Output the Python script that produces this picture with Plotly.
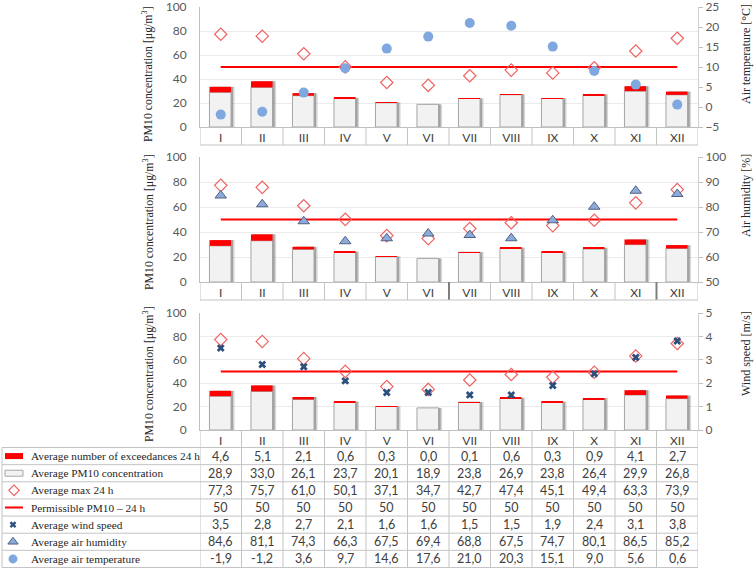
import plotly.graph_objects as go

# ---------------- data ----------------
months = ["I", "II", "III", "IV", "V", "VI", "VII", "VIII", "IX", "X", "XI", "XII"]
exceedances = [4.6, 5.1, 2.1, 0.6, 0.3, 0.0, 0.1, 0.6, 0.3, 0.9, 4.1, 2.7]
pm10_avg = [28.9, 33.0, 26.1, 23.7, 20.1, 18.9, 23.8, 26.9, 23.8, 26.4, 29.9, 26.8]
max_24h = [77.3, 75.7, 61.0, 50.1, 37.1, 34.7, 42.7, 47.4, 45.1, 49.4, 63.3, 73.9]
permissible = [50, 50, 50, 50, 50, 50, 50, 50, 50, 50, 50, 50]
wind_speed = [3.5, 2.8, 2.7, 2.1, 1.6, 1.6, 1.5, 1.5, 1.9, 2.4, 3.1, 3.8]
air_humidity = [84.6, 81.1, 74.3, 66.3, 67.5, 69.4, 68.8, 67.5, 74.7, 80.1, 86.5, 85.2]
air_temperature = [-1.9, -1.2, 3.6, 9.7, 14.6, 17.6, 21.0, 20.3, 15.1, 9.0, 5.6, 0.6]

row_labels = [
    "Average number of exceedances 24 h",
    "Average PM10 concentration",
    "Average max 24 h",
    "Permissible PM10 \u2013 24 h",
    "Average wind speed",
    "Average air humidity",
    "Average air temperature",
]
left_title = "PM10 concentration [\u03bcg/m<sup>3</sup>]"
right_titles = ["Air temperature [\u00b0C]", "Air humidity [%]", "Wind speed [m/s]"]

# ---------------- layout helpers ----------------
W, H = 756, 568
def px(x):
    return x / W
def py(y):
    return 1 - y / H

X0, X1 = 200, 698
panels = [(7, 127), (157, 282), (313, 430)]  # (top px, bottom px)
RED = "#ff0000"
DIAM = "#f06262"
BLUE = "#7fa7e0"
SANS = "Lato, Carlito, Calibri, sans-serif"
SERIF = "Liberation Serif, Times New Roman, serif"
GRIDC = "#c4c4c4"

fig = go.Figure()

total = [a + b for a, b in zip(pm10_avg, exceedances)]
sec_vals = [air_temperature, air_humidity, wind_speed]
sec_ranges = [[-5, 25], [50, 100], [0, 5]]
sec_dticks = [5, 10, 1]

BW = 0.52
OFF = -0.272

for p in range(3):
    xa = "x" if p == 0 else f"x{p+1}"
    ya = "y" if p == 0 else f"y{2*p+1}"
    ys = f"y{2*p+2}"
    # soft shadow (two layers)
    fig.add_trace(go.Bar(x=months, y=total, xaxis=xa, yaxis=ya, width=BW, offset=OFF + 0.085,
                         marker=dict(color="rgba(140,140,140,0.35)", line=dict(width=0)),
                         showlegend=False, hoverinfo="skip"))
    fig.add_trace(go.Bar(x=months, y=total, xaxis=xa, yaxis=ya, width=BW, offset=OFF + 0.05,
                         marker=dict(color="rgba(100,100,100,0.45)", line=dict(width=0)),
                         showlegend=False, hoverinfo="skip"))
    fig.add_trace(go.Bar(x=months, y=pm10_avg, xaxis=xa, yaxis=ya, width=BW, offset=OFF,
                         marker=dict(color="#f2f2f2", line=dict(color="#a6a6a6", width=1)),
                         showlegend=False, name="Average PM10 concentration"))
    fig.add_trace(go.Bar(x=months, y=exceedances, base=pm10_avg, xaxis=xa, yaxis=ya, width=BW, offset=OFF,
                         marker=dict(color=RED, line=dict(width=0)),
                         showlegend=False, name="Average number of exceedances 24 h"))
    fig.add_trace(go.Scatter(x=months, y=permissible, xaxis=xa, yaxis=ya, mode="lines",
                             line=dict(color=RED, width=2.2), showlegend=False))
    fig.add_trace(go.Scatter(x=months, y=max_24h, xaxis=xa, yaxis=ya, mode="markers",
                             marker=dict(symbol="diamond-open", size=9.5, color=DIAM, line=dict(width=1.2)),
                             showlegend=False))
    if p == 0:
        mk = dict(symbol="circle", size=10, color=BLUE)
    elif p == 1:
        mk = dict(symbol="triangle-up", size=10, color="#8eaad8", line=dict(color="#4d6285", width=1))
    else:
        mk = dict(symbol="x", size=7, color="#2c4f7e", line=dict(width=0))
    fig.add_trace(go.Scatter(x=months, y=sec_vals[p], xaxis=xa, yaxis=ys, mode="markers",
                             marker=mk, showlegend=False))

# legend symbols in the table's first column (pixel-unit helper axes)
row_h = (567.5 - 447.5) / 7
row_c = [447.5 + row_h * (i + 0.5) for i in range(7)]
fig.add_trace(go.Scatter(x=[14], y=[row_c[2]], xaxis="x4", yaxis="y7", mode="markers",
                         marker=dict(symbol="diamond-open", size=8, color=DIAM, line=dict(width=1.2)),
                         showlegend=False, hoverinfo="skip"))
fig.add_trace(go.Scatter(x=[5, 23], y=[row_c[3], row_c[3]], xaxis="x4", yaxis="y7", mode="lines",
                         line=dict(color=RED, width=2), showlegend=False, hoverinfo="skip"))
fig.add_trace(go.Scatter(x=[13], y=[row_c[4]], xaxis="x4", yaxis="y7", mode="markers",
                         marker=dict(symbol="x", size=6, color="#2c4f7e"), showlegend=False, hoverinfo="skip"))
fig.add_trace(go.Scatter(x=[13], y=[row_c[5]], xaxis="x4", yaxis="y7", mode="markers",
                         marker=dict(symbol="triangle-up", size=9, color="#8eaad8", line=dict(color="#4d6285", width=1)),
                         showlegend=False, hoverinfo="skip"))
fig.add_trace(go.Scatter(x=[13], y=[row_c[6]], xaxis="x4", yaxis="y7", mode="markers",
                         marker=dict(symbol="circle", size=9, color=BLUE), showlegend=False, hoverinfo="skip"))

layout = dict(
    width=W, height=H, margin=dict(l=0, r=0, t=0, b=0, autoexpand=False),
    paper_bgcolor="white", plot_bgcolor="white", barmode="overlay",
    showlegend=False, font=dict(family=SANS, color="#404040"),
)

tickfont = dict(family=SANS, size=12, color="#595959")
for p in range(3):
    top, bot = panels[p]
    dom = [py(bot), py(top)]
    xk = "xaxis" if p == 0 else f"xaxis{p+1}"
    ylk = "yaxis" if p == 0 else f"yaxis{2*p+1}"
    yrk = f"yaxis{2*p+2}"
    yl = "y" if p == 0 else f"y{2*p+1}"
    layout[xk] = dict(domain=[px(X0), px(X1)], anchor=yl, type="category", categoryorder="array",
                      categoryarray=months, range=[-0.5, 11.5], showline=True, linecolor="#bfbfbf",
                      ticks="", showgrid=False, tickfont=dict(family=SANS, size=12, color="#404040"),
                      automargin=False, fixedrange=True)
    layout[ylk] = dict(domain=dom, anchor=xk.replace("axis", ""), range=[0, 100], dtick=20,
                       showgrid=True, gridcolor="#ebebeb", zeroline=False, showline=True,
                       linecolor="#bfbfbf", ticks="outside", ticklen=10, tickcolor="rgba(0,0,0,0)",
                       tickfont=tickfont, ticklabeloverflow="allow", automargin=False, fixedrange=True)
    layout[yrk] = dict(domain=dom, anchor=xk.replace("axis", ""), overlaying=yl, side="right",
                       range=sec_ranges[p], dtick=sec_dticks[p], showgrid=False, zeroline=False,
                       showline=True, linecolor="#d0d0d0", ticks="outside", ticklen=4,
                       tickcolor="#bfbfbf", tickfont=tickfont, ticklabeloverflow="allow",
                       automargin=False, fixedrange=True)

layout["xaxis4"] = dict(domain=[0, px(X0)], range=[0, 200], anchor="y7", visible=False,
                        automargin=False, fixedrange=True)
layout["yaxis7"] = dict(domain=[0, py(430)], range=[568, 430], anchor="x4", visible=False,
                        automargin=False, fixedrange=True)

shapes = []
line_style = dict(color=GRIDC, width=1)
# category cell rows under panels 1 and 2
for p, xr in [(0, "x"), (1, "x2")]:
    bot = panels[p][1]
    for k in range(13):
        b = k - 0.5
        style = line_style
        if p == 1 and k in (6, 11):
            style = dict(color="#7f7f7f", width=2)
        shapes.append(dict(type="line", xref=xr, yref="paper", x0=b, x1=b, y0=py(bot), y1=py(bot + 18),
                           line=style))
    shapes.append(dict(type="line", xref=xr, yref="paper", x0=-0.5, x1=11.5, y0=py(bot + 18), y1=py(bot + 18),
                       line=line_style))
# table grid
row_b = [447.5 + row_h * i for i in range(8)]
for yb in row_b:
    shapes.append(dict(type="line", xref="paper", yref="paper", x0=px(2), x1=px(X1), y0=py(yb), y1=py(yb),
                       line=line_style))
shapes.append(dict(type="line", xref="paper", yref="paper", x0=px(2), x1=px(2), y0=py(447.5), y1=py(567.5),
                   line=line_style))
for k in range(13):
    b = k - 0.5
    shapes.append(dict(type="line", xref="x3", yref="paper", x0=b, x1=b, y0=py(430), y1=py(567.5),
                       line=line_style))
# legend rectangles
shapes.append(dict(type="rect", xref="x4", yref="y7", x0=5, x1=23, y0=row_c[0] - 3, y1=row_c[0] + 3,
                   fillcolor=RED, line=dict(width=0)))
shapes.append(dict(type="rect", xref="x4", yref="y7", x0=5, x1=23, y0=row_c[1] - 3, y1=row_c[1] + 3,
                   fillcolor="#f2f2f2", line=dict(color="#a6a6a6", width=1)))
layout["shapes"] = shapes

annotations = []
# table values
def fmt(v, integer=False):
    if integer:
        return str(int(v))
    return f"{v:.1f}".replace(".", ",")

table_rows = [(exceedances, False), (pm10_avg, False), (max_24h, False), (permissible, True),
              (wind_speed, False), (air_humidity, False), (air_temperature, False)]
for r, (vals, integer) in enumerate(table_rows):
    for c, v in enumerate(vals):
        annotations.append(dict(xref="x3", yref="paper", x=c, y=py(row_c[r]), text=fmt(v, integer),
                                showarrow=False, xanchor="center", yanchor="middle",
                                font=dict(family=SANS, size=12.5, color="#404040")))
    annotations.append(dict(xref="paper", yref="paper", x=px(29), y=py(row_c[r]), text=row_labels[r],
                            showarrow=False, xanchor="left", yanchor="middle",
                            font=dict(family=SERIF, size=11.3, color="#262626")))

left_centers = [74, 222, 374]
right_centers = [54, 196, 354]
for p in range(3):
    annotations.append(dict(xref="paper", yref="paper", x=px(148), y=py(left_centers[p]), text=left_title,
                            textangle=-90, showarrow=False, xanchor="center", yanchor="middle",
                            font=dict(family=SERIF, size=11.8, color="#262626")))
    annotations.append(dict(xref="paper", yref="paper", x=px(746), y=py(right_centers[p]), text=right_titles[p],
                            textangle=-90, showarrow=False, xanchor="center", yanchor="middle",
                            font=dict(family=SERIF, size=12, color="#262626")))
layout["annotations"] = annotations

fig.update_layout(**layout)
fig.write_html("out.html", config={"displayModeBar": False},
               post_script="document.body.style.margin='0';document.body.style.overflow='hidden';")
